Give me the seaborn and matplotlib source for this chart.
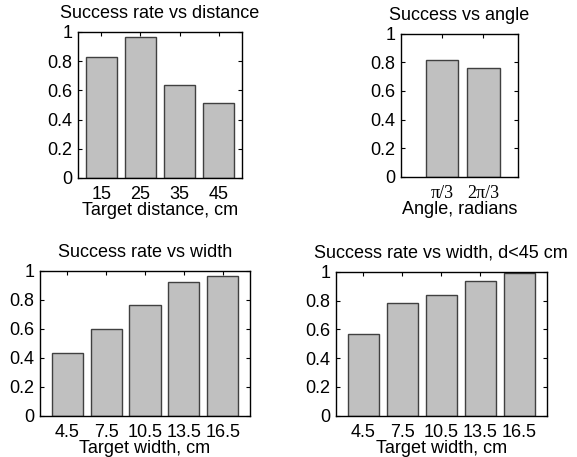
import matplotlib
matplotlib.use("Agg")
import matplotlib.pyplot as plt
import seaborn as sns
import pandas as pd

# Data
dist_labels = ["15", "25", "35", "45"]
dist_values = [0.826, 0.963, 0.639, 0.514]

angle_labels = ["π/3", "2π/3"]
angle_values = [0.818, 0.760]

width_labels = ["4.5", "7.5", "10.5", "13.5", "16.5"]
width_values = [0.434, 0.600, 0.766, 0.924, 0.963]
width45_values = [0.569, 0.780, 0.836, 0.935, 0.988]

sns.set_style("ticks")
plt.rcParams['font.family'] = ['Liberation Sans', 'DejaVu Sans']
plt.rcParams.update({
    'xtick.direction': 'in', 'ytick.direction': 'in',
    'xtick.top': True, 'ytick.right': True,
    'xtick.major.size': 3, 'ytick.major.size': 3,
    'xtick.major.width': 0.8, 'ytick.major.width': 0.8,
    'axes.linewidth': 1.0, 'axes.edgecolor': 'black',
    'xtick.color': 'black', 'ytick.color': 'black',
    'text.color': 'black', 'axes.labelcolor': 'black',
    'axes.titlecolor': 'black',
})

W, H = 577, 457
fig = plt.figure(figsize=(W / 100, H / 100), dpi=100)

def px_axes(x0, y0, x1, y1):
    return fig.add_axes([x0 / W, 1 - y1 / H, (x1 - x0) / W, (y1 - y0) / H])

FACE = '#c0c0c0'
EDGE = '#404040'
FS = 13

def panel(ax, labels, values, title, xlabel, xlim, tickfont=None):
    df = pd.DataFrame({'x': labels, 'y': values})
    sns.barplot(data=df, x='x', y='y', order=labels, color=FACE, saturation=1,
                edgecolor=EDGE, linewidth=1.0, width=0.8, ax=ax)
    ax.set_ylim(0, 1)
    ax.set_xlim(*xlim)
    ax.set_yticks([0, 0.2, 0.4, 0.6, 0.8, 1])
    ax.set_yticklabels(['0', '0.2', '0.4', '0.6', '0.8', '1'], fontsize=FS)
    ax.set_xticks(range(len(labels)))
    if tickfont:
        ax.set_xticklabels(labels, fontsize=FS, family=tickfont)
    else:
        ax.set_xticklabels(labels, fontsize=FS)
    ax.tick_params(axis='x', pad=6)
    ax.tick_params(axis='y', pad=4)
    ax.set_title(title, fontsize=FS, pad=10)
    ax.set_xlabel(xlabel, fontsize=FS, labelpad=-1)
    ax.set_ylabel('')
    for s in ax.spines.values():
        s.set_visible(True)
        s.set_linewidth(1.0)

ax1 = px_axes(78, 32, 242, 178)
panel(ax1, dist_labels, dist_values, "Success rate vs distance",
      "Target distance, cm", (-0.6, 3.6))

ax2 = px_axes(401, 33.7, 518, 176.7)
panel(ax2, angle_labels, angle_values, "Success vs angle",
      "Angle, radians", (-1.0, 1.85), tickfont=['Liberation Serif', 'DejaVu Serif'])

ax3 = px_axes(40, 270.7, 250, 415.7)
panel(ax3, width_labels, width_values, "Success rate vs width",
      "Target width, cm", (-0.7, 4.7))

ax4 = px_axes(336, 271.7, 546.7, 415.7)
panel(ax4, width_labels, width45_values, "Success rate vs width, d<45 cm",
      "Target width, cm", (-0.7, 4.7))

fig.savefig("out.png", dpi=100)
